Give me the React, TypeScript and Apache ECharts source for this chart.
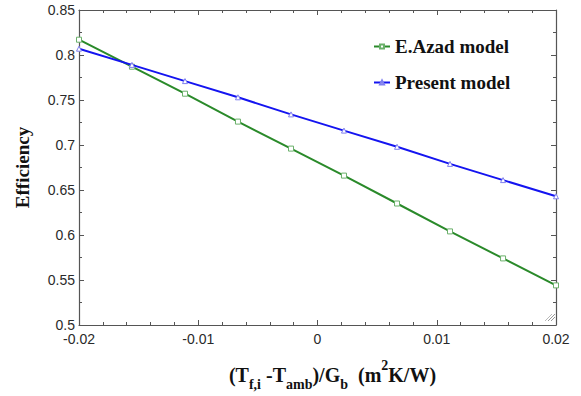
import React, { useEffect, useRef } from "react";
import * as echarts from "echarts";

const xValues = [-0.02, -0.01556, -0.01111, -0.00667, -0.00222, 0.00222, 0.00667, 0.01111, 0.01556, 0.02];
const azadValues = [0.817, 0.787, 0.757, 0.726, 0.696, 0.666, 0.635, 0.604, 0.574, 0.544];
const presentValues = [0.807, 0.789, 0.771, 0.753, 0.734, 0.716, 0.698, 0.679, 0.661, 0.643];
const seriesNames = ["E.Azad model", "Present model"];

export default function App() {
  const ref = useRef<HTMLDivElement>(null);
  useEffect(() => {
    const chart = echarts.init(ref.current!, null, { renderer: "svg" });
    const axisColor = "#555";
    const serif = "Liberation Serif, Times New Roman, serif";
    const labelStyle = { color: "#2a2a2a", fontFamily: "Liberation Sans, Arial, sans-serif", fontSize: 14 };
    const common = {
      axisLine: { show: true, onZero: false, lineStyle: { color: axisColor, width: 1.2 } },
      axisTick: { show: true, inside: true, length: 5, lineStyle: { color: axisColor } },
      splitLine: { show: false },
    };
    const fmt = (v: number) => String(Number(v.toFixed(3)));
    chart.setOption({
      animation: false,
      backgroundColor: "#fff",
      grid: { left: 79, right: 25, top: 10, bottom: 69, containLabel: false },
      legend: {
        orient: "vertical",
        left: 368,
        top: 32,
        itemGap: 17,
        itemWidth: 16,
        itemHeight: 5,
        data: seriesNames,
        textStyle: { fontFamily: serif, fontWeight: "bold", fontSize: 19, color: "#111" },
      },
      xAxis: [
        {
          type: "value",
          min: -0.02,
          max: 0.02,
          interval: 0.01,
          ...common,
          minorTick: { show: true, splitNumber: 5, length: 3, lineStyle: { color: axisColor } },
          axisLabel: { ...labelStyle, margin: 7, formatter: fmt },
          name: "{p|(T}{s|f,i}{p| -T}{s|amb}{p|)/G}{s|b}{p|  (m}{u|2}{p|K/W)}",
          nameLocation: "middle",
          nameGap: 38,
          nameTextStyle: {
            padding: [0, 0, 0, 30],
            rich: {
              p: { fontFamily: serif, fontWeight: "bold", fontSize: 20, color: "#111", verticalAlign: "middle", lineHeight: 24 },
              s: { fontFamily: serif, fontWeight: "bold", fontSize: 14, color: "#111", verticalAlign: "bottom", lineHeight: 24, padding: [0, 0, -4, 0] },
              u: { fontFamily: serif, fontWeight: "bold", fontSize: 14, color: "#111", verticalAlign: "top", lineHeight: 24, padding: [-5, 0, 0, 0] },
            },
          },
        },
        {
          type: "value",
          position: "top",
          min: -0.02,
          max: 0.02,
          interval: 0.01,
          ...common,
          minorTick: { show: true, splitNumber: 5, length: 3, lineStyle: { color: axisColor } },
          axisLabel: { show: false },
        },
      ],
      yAxis: [
        {
          type: "value",
          min: 0.5,
          max: 0.85,
          interval: 0.05,
          ...common,
          minorTick: { show: true, splitNumber: 2, length: 3, lineStyle: { color: axisColor } },
          axisLabel: { ...labelStyle, margin: 4, formatter: fmt },
          name: "Efficiency",
          nameLocation: "middle",
          nameGap: 47,
          nameTextStyle: { fontFamily: serif, fontWeight: "bold", fontSize: 19, color: "#111" },
        },
        {
          type: "value",
          position: "right",
          min: 0.5,
          max: 0.85,
          interval: 0.05,
          ...common,
          minorTick: { show: true, splitNumber: 2, length: 3, lineStyle: { color: axisColor } },
          axisLabel: { show: false },
        },
      ],
      series: [
        {
          name: seriesNames[0],
          type: "line",
          data: xValues.map((x, i) => [x, azadValues[i]]),
          lineStyle: { color: "#2a8a2a", width: 2 },
          itemStyle: { color: "#fff", borderColor: "#6ab06a", borderWidth: 1 },
          symbol: "rect",
          symbolSize: 5,
          z: 2,
        },
        {
          name: seriesNames[1],
          type: "line",
          data: xValues.map((x, i) => [x, presentValues[i]]),
          lineStyle: { color: "#1414f0", width: 2 },
          itemStyle: { color: "#fff", borderColor: "#8080f0", borderWidth: 1 },
          symbol: "triangle",
          symbolSize: 5,
          z: 3,
        },
      ],
      graphic: [
        { type: "line", shape: { x1: 548, y1: 321, x2: 555, y2: 314 }, style: { stroke: "#999", lineWidth: 1 } },
        { type: "line", shape: { x1: 551, y1: 321, x2: 555, y2: 317 }, style: { stroke: "#999", lineWidth: 1 } },
        { type: "line", shape: { x1: 545, y1: 321, x2: 552, y2: 314 }, style: { stroke: "#bbb", lineWidth: 1 } },
      ],
    });
    return () => chart.dispose();
  }, []);
  return <div ref={ref} style={{ width: 581, height: 396, position: "absolute", left: 0, top: 0 }} />;
}
